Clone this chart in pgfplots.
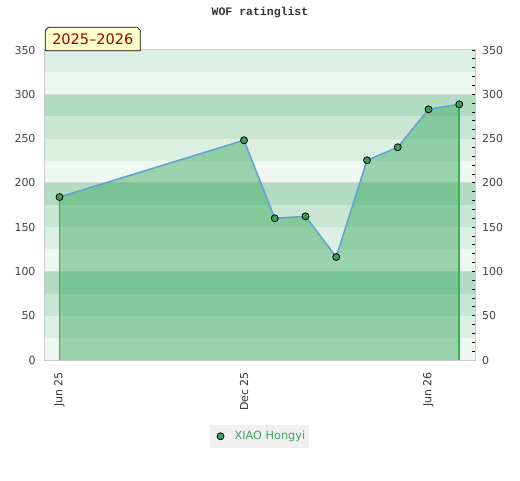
\documentclass[border=0pt]{standalone}
\usepackage{fontspec}
\setmainfont{DejaVu Sans}
\newfontfamily\titlefont{Liberation Mono}
\usepackage{pgfplots}
\usepackage{pgfplotstable}
\pgfplotsset{compat=1.18}
\definecolor{bLight}{HTML}{EFF7F1}
\definecolor{bMedL}{HTML}{DCEFE3}
\definecolor{bMed}{HTML}{C8E6D1}
\definecolor{bDark}{HTML}{B2DCC1}
\definecolor{areaG}{RGB}{63,171,98}
\definecolor{lineB}{RGB}{95,160,215}
\definecolor{markG}{HTML}{3A9E5A}
\definecolor{vertG}{HTML}{38B05A}
\definecolor{legG}{HTML}{3AAA5C}
\definecolor{legBg}{HTML}{F0F0F0}
\definecolor{tickC}{HTML}{444444}
\definecolor{xtickC}{HTML}{333333}
\definecolor{boxC}{HTML}{CCCCCC}
\definecolor{gridC}{HTML}{D6D6D6}
\definecolor{tagBg}{HTML}{FFFFCC}
\definecolor{tagTx}{HTML}{990000}

\pgfplotstableread{
x y
0 184.0
6 248.1
7 160.0
8 162.2
9 116.3
10 225.5
11 240.2
12 283.0
13 288.7
}\ratings

\begin{document}
\begin{tikzpicture}[x=1pt,y=1pt]
\path[use as bounding box] (0,0) rectangle (520,480);
\begin{axis}[
  at={(45pt,120pt)}, anchor=south west,
  scale only axis, width=430pt, height=310pt,
  xmin=-0.4715, xmax=13.512, ymin=0, ymax=350,
  axis on top,
  axis line style={draw=boxC, line width=1pt},
  xtick={0,6,12}, xticklabels={Jun 25, Dec 25, Jun 26},
  xticklabel style={rotate=90, anchor=east, inner sep=0pt, xshift=-12pt, font=\fontsize{11}{13}\selectfont, text=xtickC},
  xtick style={draw=none},
  ytick={0,50,...,350},
  minor ytick={10,20,...,340},
  ytick pos=right, yticklabel pos=left,
  tick align=inside,
  major tick length=3pt, minor tick length=3pt,
  y tick style={draw=black, line width=0.8pt},
  yticklabel style={anchor=east, inner sep=0pt, xshift=-9.3pt, font=\fontsize{11}{13}\selectfont, text=tickC},
  /pgf/number format/assume math mode=true,
  legend style={at={(0.4985,-0.246)}, anchor=center, fill=legBg, draw=none, font=\fontsize{11.3}{13}\selectfont, text=legG, inner xsep=2pt, inner ysep=4.3pt},
  legend image code/.code={\draw[#1] plot coordinates {(4pt,0pt)}; \path[draw=none,fill=none] (-5pt,0pt) -- (16pt,0pt);},
]
\fill[bLight] (axis cs:-0.4715,0) rectangle (axis cs:13.512,25);
\fill[bMedL] (axis cs:-0.4715,25) rectangle (axis cs:13.512,50);
\fill[bMed] (axis cs:-0.4715,50) rectangle (axis cs:13.512,75);
\fill[bDark] (axis cs:-0.4715,75) rectangle (axis cs:13.512,100);
\fill[bLight] (axis cs:-0.4715,100) rectangle (axis cs:13.512,125);
\fill[bMedL] (axis cs:-0.4715,125) rectangle (axis cs:13.512,150);
\fill[bMed] (axis cs:-0.4715,150) rectangle (axis cs:13.512,175);
\fill[bDark] (axis cs:-0.4715,175) rectangle (axis cs:13.512,200);
\fill[bLight] (axis cs:-0.4715,200) rectangle (axis cs:13.512,225);
\fill[bMedL] (axis cs:-0.4715,225) rectangle (axis cs:13.512,250);
\fill[bMed] (axis cs:-0.4715,250) rectangle (axis cs:13.512,275);
\fill[bDark] (axis cs:-0.4715,275) rectangle (axis cs:13.512,300);
\fill[bLight] (axis cs:-0.4715,300) rectangle (axis cs:13.512,325);
\fill[bMedL] (axis cs:-0.4715,325) rectangle (axis cs:13.512,350);
\draw[gridC, line width=1pt] (axis cs:-0.4715,100) -- (axis cs:13.512,100);
\draw[gridC, line width=1pt] (axis cs:-0.4715,200) -- (axis cs:13.512,200);
\draw[gridC, line width=1pt] (axis cs:-0.4715,300) -- (axis cs:13.512,300);
\addplot[draw=none, fill=areaG, fill opacity=0.48, forget plot] table {\ratings} \closedcycle;
\addplot[ycomb, draw=vertG, mark=none, line width=1.6pt, forget plot] coordinates {(0,184.0) (13,288.7)};
\addplot[draw=lineB, line width=1.5pt, forget plot] table {\ratings};
\addplot[only marks, mark=*, mark size=3.5pt, mark options={fill=markG, draw=black, line width=0.8pt}] table {\ratings};
\addlegendentry{XIAO Hongyi\hspace{3.5pt}}
\end{axis}
\begin{axis}[
  at={(45pt,120pt)}, anchor=south west,
  scale only axis, width=430pt, height=310pt,
  xmin=-0.4715, xmax=13.512, ymin=0, ymax=350,
  hide x axis,
  axis line style={draw=none},
  ytick={0,50,...,350},
  ytick pos=right, yticklabel pos=right,
  major tick length=0pt,
  yticklabel style={anchor=west, inner sep=0pt, xshift=7pt, font=\fontsize{11}{13}\selectfont, text=tickC},
  /pgf/number format/assume math mode=true,
]
\end{axis}
\node[font=\titlefont\bfseries\fontsize{11.5}{13}\selectfont, text=xtickC] at (260,467) {WOF ratinglist};
\draw[fill=tagBg, draw=black, line width=0.8pt] (45.3,429.3) -- (45.3,449.7) -- (48.3,452.7) -- (137.3,452.7) -- (140.3,449.7) -- (140.3,429.3) -- cycle;
\node[font=\fontsize{14.5}{16}\selectfont, text=tagTx] at (92.8,440.5) {2025–2026};
\end{tikzpicture}
\end{document}
